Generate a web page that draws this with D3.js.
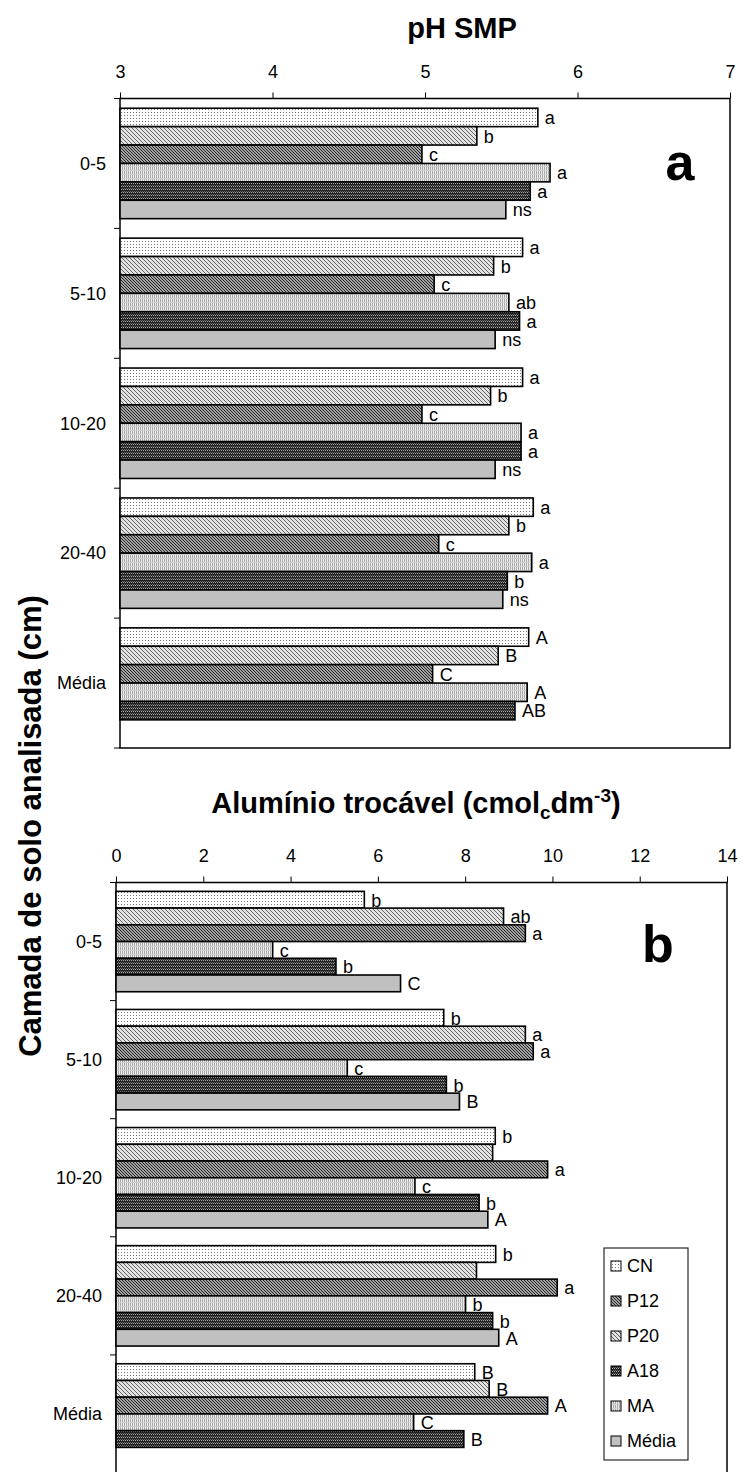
<!DOCTYPE html>
<html>
<head>
<meta charset="utf-8">
<script src="https://cdn.jsdelivr.net/npm/d3@7/dist/d3.min.js"></script>
<style>
  body { margin: 0; background: #fff; }
  svg { display: block; font-family: "Liberation Sans", Arial, sans-serif; }
</style>
</head>
<body>
<svg id="chart" width="742" height="1472"></svg>
<script>
// ===== DATA =====
const categories  = ['0-5', '5-10', '10-20', '20-40', 'Média'];
const legendOrder = ['CN', 'P12', 'P20', 'A18', 'MA', 'Média'];
const barOrder    = ['CN', 'P20', 'P12', 'MA', 'A18', 'Média'];   // top -> bottom in each group

const phTicks = [3, 4, 5, 6, 7];
const alTicks = [0, 2, 4, 6, 8, 10, 12, 14];

// pH SMP
const phCN    = [5.74, 5.64, 5.64, 5.71, 5.68];
const phP20   = [5.34, 5.45, 5.43, 5.55, 5.48];
const phP12   = [4.98, 5.06, 4.98, 5.09, 5.05];
const phMA    = [5.82, 5.55, 5.63, 5.70, 5.67];
const phA18   = [5.69, 5.62, 5.63, 5.54, 5.59];
const phMedia = [5.53, 5.46, 5.46, 5.51, null];

const phLetCN    = ['a', 'a', 'a', 'a', 'A'];
const phLetP20   = ['b', 'b', 'b', 'b', 'B'];
const phLetP12   = ['c', 'c', 'c', 'c', 'C'];
const phLetMA    = ['a', 'ab', 'a', 'a', 'A'];
const phLetA18   = ['a', 'a', 'a', 'b', 'AB'];
const phLetMedia = ['ns', 'ns', 'ns', 'ns', ''];

// Alumínio trocável
const alCN    = [5.69, 7.51, 8.69, 8.70, 8.22];
const alP20   = [8.88, 9.38, 8.63, 8.26, 8.55];
const alP12   = [9.38, 9.56, 9.89, 10.11, 9.89];
const alMA    = [3.59, 5.30, 6.85, 8.01, 6.82];
const alA18   = [5.04, 7.57, 8.32, 8.63, 7.97];
const alMedia = [6.52, 7.87, 8.52, 8.77, null];

const alLetCN    = ['b', 'b', 'b', 'b', 'B'];
const alLetP20   = ['ab', 'a', '', '', 'B'];
const alLetP12   = ['a', 'a', 'a', 'a', 'A'];
const alLetMA    = ['c', 'c', 'c', 'b', 'C'];
const alLetA18   = ['b', 'b', 'b', 'b', 'B'];
const alLetMedia = ['C', 'B', 'A', 'A', ''];

// ===== SETUP =====
const svg  = d3.select('#chart');
const defs = svg.append('defs');
const FONT = 18;

// fill patterns (Excel-style)
function pattern(id, w, h, bg, draw) {
  const p = defs.append('pattern')
    .attr('id', id).attr('patternUnits', 'userSpaceOnUse')
    .attr('width', w).attr('height', h);
  p.append('rect').attr('width', w).attr('height', h).attr('fill', bg);
  draw(p);
}
pattern('pCN', 3, 3, '#fff', p => p.append('rect').attr('x', 1).attr('y', 1).attr('width', 1).attr('height', 1).attr('fill', '#777'));
pattern('pP20', 4, 4, '#e2e2e2', p => p.append('path').attr('d', 'M0,0L4,4M-1,3L1,5M3,-1L5,1').attr('stroke', '#666').attr('stroke-width', 1));
pattern('pP12', 3, 3, '#a0a0a0', p => p.append('path').attr('d', 'M0,0L3,3M-1,2L1,4M2,-1L4,1').attr('stroke', '#2a2a2a').attr('stroke-width', 1));
pattern('pMA', 2, 4, '#eeeeee', p => {
  p.append('rect').attr('x', 0).attr('width', 1).attr('height', 4).attr('fill', '#a8a8a8');
  p.append('rect').attr('y', 2).attr('width', 2).attr('height', 1).attr('fill', '#cfcfcf');
});
pattern('pA18', 2, 3, '#222', p => {
  p.append('rect').attr('x', 1).attr('width', 1).attr('height', 1).attr('fill', '#aaa');
  p.append('rect').attr('x', 0).attr('y', 2).attr('width', 1).attr('height', 1).attr('fill', '#666');
});
const fills = { CN: 'url(#pCN)', P20: 'url(#pP20)', P12: 'url(#pP12)', MA: 'url(#pMA)', A18: 'url(#pA18)', 'Média': '#c0c0c0' };

function drawPanel(cfg) {
  const { x0, x1, y0, y1, domain, ticks, values, letters } = cfg;
  const g = svg.append('g');

  const x = d3.scaleLinear().domain(domain).range([x0, x1]);
  const y = d3.scaleBand().domain(categories).range([y0, y1]).paddingInner(0.15).paddingOuter(0.075);
  const ys = d3.scaleBand().domain(barOrder).range([0, y.bandwidth()]);

  // frame
  g.append('rect')
    .attr('x', x0).attr('y', y0).attr('width', x1 - x0).attr('height', y1 - y0)
    .attr('fill', 'none').attr('stroke', '#000').attr('stroke-width', 1.5);

  // top axis
  const ax = g.append('g').attr('transform', `translate(0,${y0})`)
    .call(d3.axisTop(x).tickValues(ticks).tickSize(6).tickPadding(15).tickFormat(d3.format('d')));
  ax.select('.domain').remove();
  ax.selectAll('line').attr('stroke', '#000');
  ax.selectAll('text').attr('font-size', FONT).attr('font-family', null).attr('fill', '#000');

  // category ticks on left axis (at group boundaries)
  const step = y.step();
  d3.range(categories.length + 1).forEach(i => {
    g.append('line')
      .attr('x1', x0 - 6).attr('x2', x0)
      .attr('y1', y0 + i * step).attr('y2', y0 + i * step)
      .attr('stroke', '#000').attr('stroke-width', 1);
  });
  g.selectAll('text.cat').data(categories).enter().append('text')
    .attr('class', 'cat')
    .attr('x', x0 - 14)
    .attr('y', d => y(d) + y.bandwidth() / 2)
    .attr('dy', '0.35em').attr('text-anchor', 'end')
    .attr('font-size', FONT)
    .text(d => d);

  // bars
  const rows = [];
  categories.forEach((c, i) => {
    barOrder.forEach(s => {
      const v = values[s][i];
      if (v != null) rows.push({ cat: c, s, v, lab: letters[s][i] });
    });
  });

  g.selectAll('rect.bar').data(rows).enter().append('rect')
    .attr('class', 'bar')
    .attr('x', x(domain[0]))
    .attr('y', d => y(d.cat) + ys(d.s))
    .attr('width', d => x(d.v) - x(domain[0]))
    .attr('height', ys.bandwidth())
    .attr('fill', d => fills[d.s])
    .attr('stroke', '#000').attr('stroke-width', 1.6);

  g.selectAll('text.lab').data(rows.filter(d => d.lab)).enter().append('text')
    .attr('class', 'lab')
    .attr('x', d => x(d.v) + 7)
    .attr('y', d => y(d.cat) + ys(d.s) + ys.bandwidth() / 2)
    .attr('dy', '0.38em')
    .attr('font-size', FONT)
    .text(d => d.lab);

  // panel letter
  g.append('text')
    .attr('x', cfg.letterX).attr('y', cfg.letterY)
    .attr('text-anchor', 'middle')
    .attr('font-size', 52).attr('font-weight', 'bold')
    .text(cfg.letter);
}

// ===== PANEL a: pH SMP =====
drawPanel({
  x0: 120, x1: 730, y0: 98.5, y1: 748,
  domain: [3, 7], ticks: phTicks,
  values:  { CN: phCN, P20: phP20, P12: phP12, MA: phMA, A18: phA18, 'Média': phMedia },
  letters: { CN: phLetCN, P20: phLetP20, P12: phLetP12, MA: phLetMA, A18: phLetA18, 'Média': phLetMedia },
  letter: 'a', letterX: 680, letterY: 180
});

svg.append('text')
  .attr('x', 462).attr('y', 38)
  .attr('text-anchor', 'middle')
  .attr('font-size', 29).attr('font-weight', 'bold')
  .text('pH SMP');

// ===== PANEL b: Alumínio trocável =====
drawPanel({
  x0: 116, x1: 727, y0: 882.5, y1: 1473,
  domain: [0, 14], ticks: alTicks,
  values:  { CN: alCN, P20: alP20, P12: alP12, MA: alMA, A18: alA18, 'Média': alMedia },
  letters: { CN: alLetCN, P20: alLetP20, P12: alLetP12, MA: alLetMA, A18: alLetA18, 'Média': alLetMedia },
  letter: 'b', letterX: 658, letterY: 962
});

const t2 = svg.append('text')
  .attr('x', 416).attr('y', 813)
  .attr('text-anchor', 'middle')
  .attr('font-size', 29).attr('font-weight', 'bold');
t2.append('tspan').text('Alumínio trocável (cmol');
t2.append('tspan').attr('font-size', 19).attr('dy', 6).text('c');
t2.append('tspan').attr('dy', -6).text('dm');
t2.append('tspan').attr('font-size', 19).attr('dy', -11).text('-3');
t2.append('tspan').attr('dy', 11).text(')');

// shared y title
svg.append('text')
  .attr('transform', 'translate(41,826) rotate(-90)')
  .attr('text-anchor', 'middle')
  .attr('font-size', 31).attr('font-weight', 'bold')
  .text('Camada de solo analisada (cm)');

// ===== LEGEND =====
const lg = svg.append('g');
lg.append('rect')
  .attr('x', 604).attr('y', 1248).attr('width', 84).attr('height', 212)
  .attr('fill', '#fff').attr('stroke', '#000').attr('stroke-width', 1);
const li = lg.selectAll('g.item').data(legendOrder).enter().append('g')
  .attr('class', 'item')
  .attr('transform', (d, i) => `translate(611,${1266 + i * 35})`);
li.append('rect')
  .attr('x', 0).attr('y', -5).attr('width', 10).attr('height', 10)
  .attr('fill', d => fills[d]).attr('stroke', '#000').attr('stroke-width', 1);
li.append('text')
  .attr('x', 16).attr('dy', '0.36em')
  .attr('font-size', FONT)
  .text(d => d);
</script>
</body>
</html>
